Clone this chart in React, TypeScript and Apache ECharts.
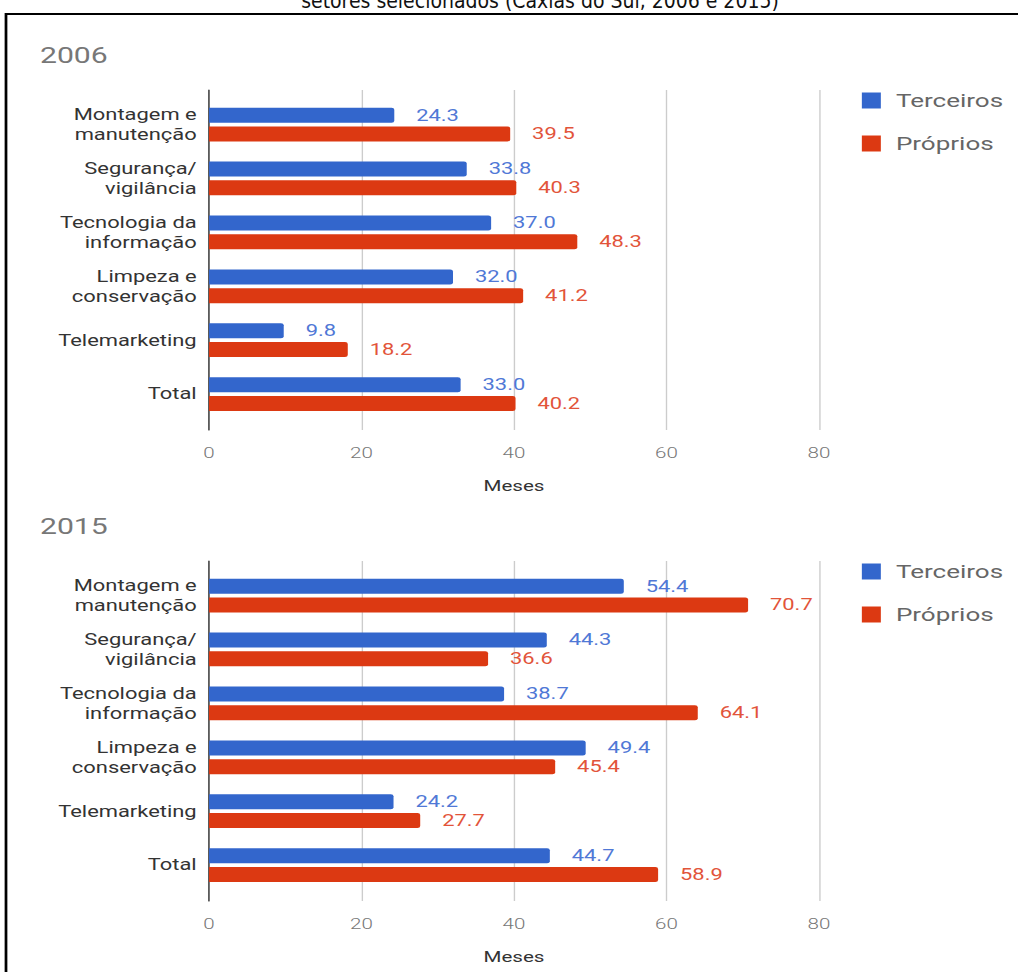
import React, { useEffect, useRef } from "react";
import * as echarts from "echarts";

const categories = [
  "Montagem e\nmanutenção",
  "Segurança/\nvigilância",
  "Tecnologia da\ninformação",
  "Limpeza e\nconservação",
  "Telemarketing",
  "Total",
];
const terceiros2006 = [24.3, 33.8, 37.0, 32.0, 9.8, 33.0];
const proprios2006 = [39.5, 40.3, 48.3, 41.2, 18.2, 40.2];
const terceiros2015 = [54.4, 44.3, 38.7, 49.4, 24.2, 44.7];
const proprios2015 = [70.7, 36.6, 64.1, 45.4, 27.7, 58.9];
const xTicks = { min: 0, max: 80, interval: 20 };
const seriesNames = ["Terceiros", "Próprios"];
const years = ["2006", "2015"];
const pageTitle = "setores selecionados (Caxias do Sul, 2006 e 2015)";

const BLUE = "#3366cc";
const RED = "#dc3912";
const FONT = "Roboto, 'Noto Sans', sans-serif";
// the reference picture is horizontally stretched; reproduce with a CSS scaleX
const S = 1.37;
const W = 1018;

export default function App() {
  const ref = useRef<HTMLDivElement>(null);
  useEffect(() => {
    document.body.style.margin = "0";
    document.body.style.overflow = "hidden";
    const chart = echarts.init(ref.current!, undefined, { renderer: "svg" });
    const offsets = [0, 471];
    const grids: any[] = [];
    const xAxes: any[] = [];
    const yAxes: any[] = [];
    const series: any[] = [];
    const legends: any[] = [];
    const titles: any[] = [];
    const data = [
      [terceiros2006, proprios2006],
      [terceiros2015, proprios2015],
    ];
    const gl = 209 / S;
    const gw = 610 / S;
    offsets.forEach((dy, k) => {
      const g0 = grids.length;
      grids.push({ left: gl, width: gw, top: 90 + dy, height: 340 });
      grids.push({ left: gl, width: gw, top: 97.6 + dy, height: 323.4 });
      xAxes.push({
        gridIndex: g0,
        type: "value",
        ...xTicks,
        name: "Meses",
        nameLocation: "middle",
        nameGap: 48,
        nameTextStyle: { fontSize: 15, color: "#333", fontFamily: FONT },
        axisLine: { show: false },
        axisTick: { show: false },
        axisLabel: { fontSize: 15, color: "#777", fontWeight: 300, margin: 15, fontFamily: FONT },
        splitLine: { show: true, lineStyle: { color: "#cccccc", width: 1 } },
      });
      xAxes.push({
        gridIndex: g0 + 1,
        type: "value",
        ...xTicks,
        show: false,
        splitLine: { show: false },
      });
      yAxes.push({
        gridIndex: g0,
        type: "value",
        min: 0,
        max: 1,
        axisLine: { show: true, onZero: false, lineStyle: { color: "#333", width: 1 } },
        axisTick: { show: false },
        axisLabel: { show: false },
        splitLine: { show: false },
      });
      yAxes.push({
        gridIndex: g0 + 1,
        type: "category",
        data: categories,
        inverse: true,
        axisLine: { show: false },
        axisTick: { show: false },
        axisLabel: {
          fontSize: 16,
          color: "#333",
          lineHeight: 20,
          margin: 9,
          fontFamily: FONT,
          align: "right",
        },
      });
      [0, 1].forEach((s) => {
        const color = s === 0 ? BLUE : RED;
        series.push({
          type: "bar",
          name: seriesNames[s],
          xAxisIndex: g0 + 1,
          yAxisIndex: g0 + 1,
          data: data[k][s],
          barWidth: 15,
          barGap: "25%",
          itemStyle: { color, borderRadius: [0, 2, 2, 0] },
          label: {
            show: true,
            position: "right",
            distance: 16,
            fontSize: 16,
            fontFamily: FONT,
            color: s === 0 ? "#5078d6" : "#e2543a",
            formatter: (p: any) => p.value.toFixed(1),
          },
        });
      });
      legends.push({
        orient: "vertical",
        left: 855 / S,
        top: 86 + dy,
        itemWidth: 19 / S,
        itemHeight: 16,
        itemGap: 24,
        icon: "rect",
        data: seriesNames,
        textStyle: { fontSize: 19, color: "#666", fontFamily: FONT, padding: [0, 0, 0, 6] },
        selectedMode: false,
      });
      titles.push({
        text: years[k],
        left: 40 / S,
        top: 44 + dy,
        padding: 0,
        textStyle: { fontSize: 22, color: "#777", fontWeight: "normal", fontFamily: FONT },
      });
    });
    chart.setOption({
      animation: false,
      color: [BLUE, RED],
      title: titles,
      grid: grids,
      xAxis: xAxes,
      yAxis: yAxes,
      series,
      legend: legends,
      graphic: [
        {
          type: "rect",
          shape: { x: 6 / S, y: 14, width: 1040 / S, height: 1000 },
          style: { fill: "none", stroke: "#000", lineWidth: 2 },
          silent: true,
        },
        {
          type: "text",
          x: 540 / S,
          y: 11,
          scaleX: 1 / S,
          style: {
            text: pageTitle,
            fill: "#111",
            fontSize: 21,
            fontFamily: "'Liberation Sans Narrow', 'DejaVu Sans Condensed', sans-serif",
            align: "center",
            verticalAlign: "bottom",
          },
          silent: true,
        },
      ],
    });
    return () => chart.dispose();
  }, []);
  return (
    <div style={{ width: W, height: 972, overflow: "hidden" }}>
      <div
        ref={ref}
        style={{
          width: W / S,
          height: 972,
          transform: `scaleX(${S})`,
          transformOrigin: "0 0",
        }}
      />
    </div>
  );
}
